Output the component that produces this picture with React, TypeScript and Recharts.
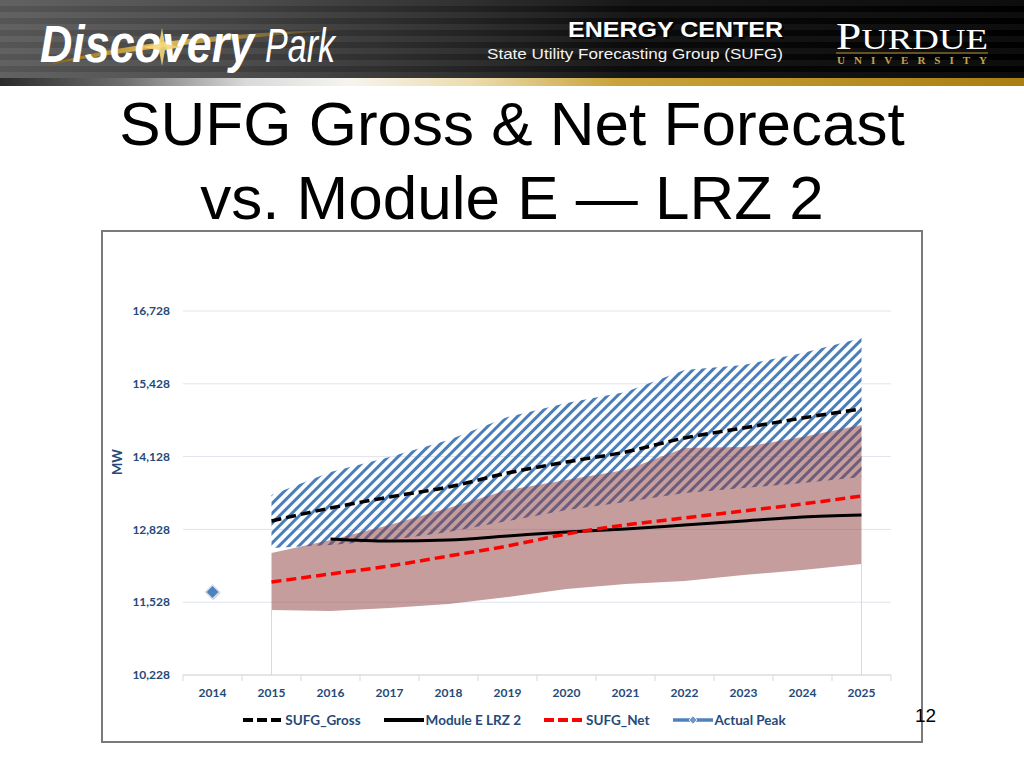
import React from "react";
import {
    ComposedChart,
    Area,
    Line,
    XAxis,
    YAxis,
    CartesianGrid,
    Legend,
    ReferenceLine,
} from "recharts";

// values (MW)
const years = ["2014", "2015", "2016", "2017", "2018", "2019", "2020", "2021", "2022", "2023", "2024", "2025"];
const sufgGross = [null, 12978, 13210, 13407, 13585, 13835, 14032, 14210, 14460, 14639, 14817, 14978];
const moduleE = [null, null, 12657, 12621, 12639, 12710, 12782, 12835, 12907, 12978, 13050, 13085];
const sufgNet = [null, 11889, 12032, 12175, 12353, 12532, 12746, 12907, 13032, 13157, 13282, 13424];
const actualPeak = [11710, null, null, null, null, null, null, null, null, null, null, null];
const grossBandLow = [null, 12496, 12549, 12639, 12781, 12978, 13174, 13317, 13478, 13567, 13657, 13764];
const grossBandHigh = [null, 13442, 13853, 14121, 14424, 14835, 15085, 15281, 15675, 15764, 15978, 16246];
const netBandLow = [null, 11389, 11371, 11424, 11496, 11621, 11764, 11853, 11907, 12014, 12103, 12210];
const netBandHigh = [null, 12407, 12639, 12907, 13210, 13532, 13710, 13889, 14282, 14299, 14478, 14692];
const yTicks = [10228, 11528, 12828, 14128, 15428, 16728];

const data = years.map((year, i) => ({
    year,
    gross: sufgGross[i],
    moduleE: moduleE[i],
    net: sufgNet[i],
    actual: actualPeak[i],
    grossBand: grossBandLow[i] == null ? null : [grossBandLow[i], grossBandHigh[i]],
    netBand: netBandLow[i] == null ? null : [netBandLow[i], netBandHigh[i]],
}));

const firstBand = years.findIndex((_, i) => netBandLow[i] != null);
const lastBand = years.length - 1;

const CHART_W = 818;
const CHART_H = 509;
const Y_W = 80;
const RIGHT = 30;
const STEP = (CHART_W - Y_W - RIGHT) / years.length;

const NAVY = "#254a78";
const FONT = "Lato, 'Open Sans', sans-serif";

function YearTick(props: any) {
    const { x, y, payload, index } = props;
    return (
        <g>
            <line x1={x - STEP / 2} x2={x - STEP / 2} y1={y} y2={y + 6} stroke="#d9d9d9" />
            {index === years.length - 1 && (
                <line x1={x + STEP / 2} x2={x + STEP / 2} y1={y} y2={y + 6} stroke="#d9d9d9" />
            )}
            <text x={x} y={y + 22} textAnchor="middle" fill={NAVY} fontSize={12} fontWeight={700} fontFamily={FONT}>
                {payload.value}
            </text>
        </g>
    );
}

function Diamond(props: any) {
    const { cx, cy, index } = props;
    if (cx == null || cy == null) return <g key={`d-${index}`} />;
    const s = 7;
    return (
        <g key={`d-${index}`}>
            <polygon
                points={`${cx + 1},${cy - s + 1} ${cx + s + 1},${cy + 1} ${cx + 1},${cy + s + 1} ${cx - s + 1},${cy + 1}`}
                fill="#9a9a9a"
                opacity={0.5}
            />
            <polygon
                points={`${cx},${cy - s} ${cx + s},${cy} ${cx},${cy + s} ${cx - s},${cy}`}
                fill="#4f81bd"
                stroke="#d5e0ee"
                strokeWidth={1.5}
            />
        </g>
    );
}

const legendItems = [
    { label: "SUFG_Gross", color: "#000000", dash: "10 4" },
    { label: "Module E LRZ 2", color: "#000000", dash: "" },
    { label: "SUFG_Net", color: "#ff0000", dash: "10 4" },
    { label: "Actual Peak", color: "#4f81bd", dash: "", diamond: true },
];

function renderLegend() {
    return (
        <div style={{ height: 36, display: "flex", justifyContent: "center", alignItems: "flex-start", paddingTop: 18, paddingLeft: 35, boxSizing: "border-box", gap: 23 }}>
            {legendItems.map((it) => (
                <div key={it.label} style={{ display: "flex", alignItems: "center" }}>
                    <svg width={40} height={12} style={{ marginRight: 2 }}>
                        <line x1={0} x2={40} y1={6} y2={6} stroke={it.color} strokeWidth={it.diamond ? 3.5 : 4} strokeDasharray={it.dash || undefined} />
                        {it.diamond && <polygon points="20,2 24,6 20,10 16,6" fill="#6f97c8" stroke="#dfe8f3" strokeWidth={1} />}
                    </svg>
                    <span style={{ fontFamily: FONT, fontWeight: 700, fontSize: 13.5, color: NAVY, lineHeight: "14px" }}>{it.label}</span>
                </div>
            ))}
        </div>
    );
}

function Header() {
    return (
        <>
            <div
                style={{
                    position: "absolute",
                    left: 0,
                    top: 0,
                    width: 1024,
                    height: 78,
                    background: "linear-gradient(90deg, #5a5a5a 0%, #454545 22%, #262626 45%, #0b0b0b 62%, #000 100%)",
                }}
            />
            <div
                style={{
                    position: "absolute",
                    left: 0,
                    top: 0,
                    width: 1024,
                    height: 78,
                    background: "repeating-linear-gradient(180deg, rgba(255,255,255,0.05) 0px, rgba(255,255,255,0.05) 6px, rgba(0,0,0,0.05) 6px, rgba(0,0,0,0.05) 12px)",
                }}
            />
            <div
                style={{
                    position: "absolute",
                    left: 0,
                    top: 78,
                    width: 1024,
                    height: 8,
                    background: "linear-gradient(90deg, #2a2a2a 0%, #6d6d6d 12%, #d9d9d9 24%, #f6f4ee 34%, #ecdcae 46%, #c9a33a 60%, #a97e12 100%)",
                }}
            />
            <svg width={1024} height={86} style={{ position: "absolute", left: 0, top: 0 }}>
                <defs>
                    <linearGradient id="gold" x1="0" x2="1" y1="0" y2="0">
                        <stop offset="0%" stopColor="#7a5a10" />
                        <stop offset="40%" stopColor="#e7c25a" />
                        <stop offset="100%" stopColor="#8a6a18" stopOpacity={0.3} />
                    </linearGradient>
                </defs>
                <path d="M 42 66 Q 150 34 340 30 Q 160 44 42 66 Z" fill="url(#gold)" />
                <text x={40} y={62} fill="#ffffff" fontStyle="italic" fontFamily="'Liberation Sans', Arial, sans-serif">
                    <tspan fontSize={51} fontWeight={700} textLength={214} lengthAdjust="spacingAndGlyphs">Discovery</tspan>
                    <tspan x={265} fontSize={49} fontWeight={400} textLength={70} lengthAdjust="spacingAndGlyphs">Park</tspan>
                </text>
                <path d="M 162 28 L 165 44 L 182 47 L 165 50 L 162 66 L 159 50 L 142 47 L 159 44 Z" fill="#f2d77a" opacity={0.9} />
                <text x={785} y={39} textAnchor="end" fill="#000" opacity={0.8} fontSize={22} fontWeight={700} fontFamily="'Liberation Sans', Arial, sans-serif" textLength={215} lengthAdjust="spacingAndGlyphs">
                    ENERGY CENTER
                </text>
                <text x={783} y={37} textAnchor="end" fill="#ffffff" fontSize={22} fontWeight={700} fontFamily="'Liberation Sans', Arial, sans-serif" textLength={215} lengthAdjust="spacingAndGlyphs">
                    ENERGY CENTER
                </text>
                <text x={783} y={59} textAnchor="end" fill="#f2f2f2" fontSize={15.5} fontFamily="'Liberation Sans', Arial, sans-serif" textLength={296} lengthAdjust="spacingAndGlyphs">
                    State Utility Forecasting Group (SUFG)
                </text>
                <text x={836} y={49} fill="#ffffff" fontFamily="'Liberation Serif', 'DejaVu Serif', serif" textLength={152} lengthAdjust="spacingAndGlyphs">
                    <tspan fontSize={37}>P</tspan>
                    <tspan fontSize={30}>URDUE</tspan>
                </text>
                <line x1={836} x2={988} y1={53} y2={53} stroke="#b8953a" strokeWidth={1} />
                <text x={837} y={64} fill="#c9a244" fontSize={11} fontWeight={700} fontFamily="'Liberation Serif', serif" textLength={150} lengthAdjust="spacing">
                    UNIVERSITY
                </text>
            </svg>
        </>
    );
}

export default function App() {
    return (
        <div style={{ position: "fixed", left: 0, top: 0, width: 1024, height: 768, background: "#ffffff", overflow: "hidden" }}>
            <Header />
            <div
                style={{
                    position: "absolute",
                    left: 0,
                    top: 87,
                    width: 1024,
                    textAlign: "center",
                    fontFamily: "'Liberation Sans', Arial, sans-serif",
                    fontSize: 62,
                    lineHeight: "74px",
                    color: "#000",
                }}
            >
                SUFG Gross &amp; Net Forecast
                <br />
                vs. Module E — LRZ 2
            </div>
            <div
                style={{
                    position: "absolute",
                    left: 101,
                    top: 230,
                    width: 822,
                    height: 513,
                    border: "2px solid #7a7a7a",
                    boxSizing: "border-box",
                    background: "#fff",
                }}
            >
                <ComposedChart width={CHART_W} height={CHART_H} data={data} margin={{ top: 79, right: RIGHT, left: 0, bottom: 10 }}>
                    <defs>
                        <pattern id="hatch" patternUnits="userSpaceOnUse" width={7} height={7} patternTransform="rotate(45)">
                            <line x1={3.5} x2={3.5} y1={0} y2={7} stroke="#4a7ebb" strokeWidth={3} />
                        </pattern>
                    </defs>
                    <CartesianGrid vertical={false} stroke="#dfe4ee" />
                    <XAxis
                        dataKey="year"
                        height={20}
                        padding={{ left: STEP / 2, right: STEP / 2 }}
                        tickLine={false}
                        tickSize={0}
                        tickMargin={0}
                        axisLine={{ stroke: "#d9d9d9" }}
                        tick={<YearTick />}
                        interval={0}
                    />
                    <YAxis
                        width={Y_W}
                        type="number"
                        domain={[10228, 16728]}
                        ticks={yTicks}
                        tickLine={false}
                        axisLine={false}
                        tickSize={0}
                        tickMargin={13}
                        tickFormatter={(v: number) => v.toLocaleString("en-US")}
                        tick={{ fill: NAVY, fontSize: 12, fontWeight: 700, fontFamily: FONT }}
                        label={{
                            content: (p: any) => {
                                const vb = p.viewBox || {};
                                const cx = (vb.x || 0) + 14;
                                const cy = (vb.y || 0) + (vb.height || 0) / 2 - 31;
                                return (
                                    <text x={cx} y={cy} transform={`rotate(-90 ${cx} ${cy})`} textAnchor="middle" dominantBaseline="central" fill={NAVY} fontSize={13} fontWeight={700} fontFamily={FONT}>
                                        MW
                                    </text>
                                );
                            },
                        }}
                    />
                    <ReferenceLine
                        segment={[{ x: years[firstBand], y: yTicks[0] }, { x: years[firstBand], y: netBandLow[firstBand] as number }]}
                        stroke="#d9d9d9"
                    />
                    <ReferenceLine
                        segment={[{ x: years[lastBand], y: yTicks[0] }, { x: years[lastBand], y: netBandLow[lastBand] as number }]}
                        stroke="#d9d9d9"
                    />
                    <Area type="linear" dataKey="grossBand" fill="url(#hatch)" fillOpacity={1} stroke="none" isAnimationActive={false} legendType="none" />
                    <Area type="linear" dataKey="netBand" fill="#8c3b3b" fillOpacity={0.5} stroke="none" isAnimationActive={false} legendType="none" />
                    <Line type="monotone" dataKey="gross" stroke="#000000" strokeWidth={3.5} strokeDasharray="10 5" dot={false} isAnimationActive={false} />
                    <Line type="monotone" dataKey="moduleE" stroke="#000000" strokeWidth={3} dot={false} isAnimationActive={false} />
                    <Line type="monotone" dataKey="net" stroke="#ff0000" strokeWidth={3.5} strokeDasharray="10 5" dot={false} isAnimationActive={false} />
                    <Line type="monotone" dataKey="actual" stroke="#4f81bd" strokeWidth={3} dot={Diamond} isAnimationActive={false} />
                    <Legend verticalAlign="bottom" height={36} content={renderLegend} />
                </ComposedChart>
            </div>
            <div style={{ position: "absolute", left: 915, top: 705, fontFamily: "'Liberation Sans', Arial, sans-serif", fontSize: 19, color: "#000", lineHeight: "22px" }}>
                12
            </div>
        </div>
    );
}
